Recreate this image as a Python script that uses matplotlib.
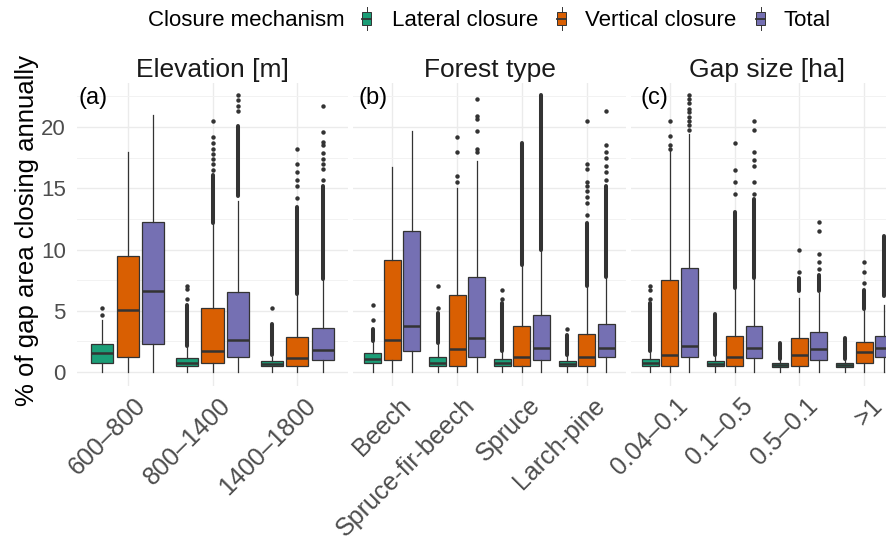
import matplotlib.pyplot as plt
from matplotlib.patches import Rectangle
from matplotlib.transforms import ScaledTranslation
import numpy as np

plt.rcParams['font.family'] = ['Liberation Sans', 'DejaVu Sans']

mechanisms = ['Lateral closure', 'Vertical closure', 'Total']
mech_colors = ['#1B9E77', '#D95F02', '#7570B3']

# box stats per category: (q1, median, q3, upper whisker), lower whisker is 0
# outliers: dense run (from, to) where the points overlap, plus single points

# (a) Elevation [m]
elev_labels = ['600–800', '800–1400', '1400–1800']
elev_lateral = [(0.71, 1.53, 2.27, 4.25), (0.49, 0.77, 1.12, 2.08), (0.49, 0.68, 0.90, 1.26)]
elev_vertical = [(1.26, 5.03, 9.51, 17.98), (0.71, 1.75, 5.25, 12.13), (0.49, 1.15, 2.87, 6.31)]
elev_total = [(2.27, 6.64, 12.24, 20.98), (1.26, 2.65, 6.53, 13.93), (0.98, 1.80, 3.61, 7.54)]
elev_runs = [
    [None, (2.15, 5.5), (1.35, 3.9)],
    [None, (12.2, 16.1), (6.4, 13.5)],
    [None, (14.4, 20.1), (7.6, 15.2)],
]
elev_points = [
    [[4.62, 5.22], [6.0, 6.78, 7.0], [5.22]],
    [[], [16.5, 17.0, 17.4, 17.8, 18.2, 18.7, 19.2, 20.5], [14.2, 15.2, 15.7, 16.3, 17.0, 18.25]],
    [[], [21.3, 21.7, 22.2, 22.6], [15.7, 16.6, 17.0, 17.4, 17.9, 18.5, 18.8, 19.6, 21.7]],
]

# (b) Forest type
forest_labels = ['Beech', 'Spruce-fir-beech', 'Spruce', 'Larch-pine']
forest_lateral = [(0.71, 1.04, 1.53, 2.49), (0.49, 0.77, 1.26, 2.35), (0.49, 0.77, 1.04, 1.67), (0.49, 0.68, 0.90, 1.31)]
forest_vertical = [(0.98, 2.65, 9.15, 16.78), (0.49, 1.91, 6.31, 15.0), (0.49, 1.26, 3.77, 8.63), (0.49, 1.26, 3.11, 7.0)]
forest_total = [(1.75, 3.72, 11.5, 19.7), (1.26, 2.76, 7.76, 17.24), (0.98, 1.99, 4.64, 9.95), (1.26, 1.99, 3.91, 7.76)]
forest_runs = [
    [(2.55, 3.5), (2.4, 4.8), (1.7, 5.6), (1.35, 3.0)],
    [None, None, (8.7, 18.7), (7.05, 12.2)],
    [None, None, (10.0, 22.6), (7.8, 15.2)],
]
forest_points = [
    [[4.26, 5.49], [5.2, 7.0], [6.0, 6.7], [3.5]],
    [[], [15.5, 16.0, 17.98, 19.2], [], [12.8, 13.8, 14.3, 14.8, 15.2, 15.5, 16.6, 17.0, 20.5]],
    [[], [18.0, 18.2, 19.7, 20.7, 20.9, 22.3], [], [15.7, 16.3, 16.8, 17.5, 18.0, 18.5, 21.3]],
]

# (c) Gap size [ha]
gap_labels = ['0.04–0.1', '0.1–0.5', '0.5–0.1', '>1']
gap_lateral = [(0.49, 0.77, 1.04, 1.67), (0.49, 0.68, 0.90, 1.31), (0.38, 0.55, 0.71, 1.04), (0.38, 0.55, 0.71, 0.98)]
gap_vertical = [(0.49, 1.39, 7.51, 18.06), (0.49, 1.26, 2.98, 6.78), (0.49, 1.39, 2.76, 6.04), (0.71, 1.61, 2.49, 5.08)]
gap_total = [(1.26, 2.16, 8.50, 19.4), (1.12, 1.99, 3.77, 7.6), (0.98, 1.91, 3.25, 6.45), (1.26, 1.99, 2.98, 5.49)]
gap_runs = [
    [(1.7, 5.6), (1.35, 4.7), (1.1, 2.35), (1.1, 2.76)],
    [None, (6.85, 13.1), (6.6, 7.7), (5.15, 6.7)],
    [None, (7.65, 14.1), (6.6, 7.95), (6.2, 11.1)],
]
gap_points = [
    [[6.0, 6.7, 7.05], [], [], []],
    [[18.25, 18.5, 19.3, 20.5], [14.5, 15.5, 16.5, 18.7], [8.2, 10.0], [7.3, 8.2, 8.96]],
    [[19.8, 20.2, 20.5, 20.8, 21.2, 21.5, 22.0, 22.3, 22.6], [14.5, 15.5, 16.8, 17.3, 18.0, 19.75, 20.5],
     [8.4, 8.96, 9.67, 11.5, 12.24], []],
]

edge = '#333333'
W, H = 886, 543
fig = plt.figure(figsize=(W / 100, H / 100), dpi=100)


def px_axes(x0, x1, y0, y1):
    return fig.add_axes([x0 / W, 1 - y1 / H, (x1 - x0) / W, (y1 - y0) / H])


panels = [
    (px_axes(77, 348, 83, 385.5), 'Elevation [m]', '(a)', 1, elev_labels,
     [elev_lateral, elev_vertical, elev_total], elev_runs, elev_points),
    (px_axes(353.4, 625.6, 83, 385.5), 'Forest type', '(b)', 5, forest_labels,
     [forest_lateral, forest_vertical, forest_total], forest_runs, forest_points),
    (px_axes(631, 903, 83, 385.5), 'Gap size [ha]', '(c)', 9, gap_labels,
     [gap_lateral, gap_vertical, gap_total], gap_runs, gap_points),
]

offsets = [-0.3, 0.0, 0.3]

for k, (ax, title, tag, tag_dx, labels, boxes, runs, points) in enumerate(panels):
    n = len(labels)
    for m in range(3):
        pos = np.arange(n) + offsets[m]
        stats = [dict(q1=b[0], med=b[1], q3=b[2], whislo=0.0, whishi=b[3]) for b in boxes[m]]
        ax.bxp(stats, positions=pos, widths=0.26, patch_artist=True,
               showfliers=False, showcaps=False,
               boxprops=dict(facecolor=mech_colors[m], edgecolor=edge, linewidth=0.9),
               medianprops=dict(color=edge, linewidth=1.8),
               whiskerprops=dict(color=edge, linewidth=0.9))
        for i in range(n):
            if runs[m][i] is not None:
                ax.plot([pos[i], pos[i]], runs[m][i], color=edge, lw=2.9,
                        solid_capstyle='round', zorder=3)
            if points[m][i]:
                ax.plot([pos[i]] * len(points[m][i]), points[m][i], 'o', ms=3.2,
                        color=edge, mew=0, zorder=3)

    ax.set_xlim(-0.6, n - 0.4)
    ax.set_ylim(-1.1, 23.6)
    ax.set_xticks(np.arange(n))
    ax.set_yticks([0, 5, 10, 15, 20])
    ax.set_yticks(np.arange(2.5, 23, 5), minor=True)
    ax.grid(True, which='major', color='#EBEBEB', lw=1.0)
    ax.grid(True, which='minor', axis='y', color='#F2F2F2', lw=0.7)
    ax.set_axisbelow(True)
    for s in ax.spines.values():
        s.set_visible(False)
    ax.tick_params(which='both', length=0)
    ax.tick_params(axis='y', pad=8, labelsize=16, labelcolor='#4D4D4D')
    if k > 0:
        ax.set_yticklabels([])

    shift = ScaledTranslation(6 / 100, -3 / 100, fig.dpi_scale_trans)
    ax.set_xticklabels(labels, rotation=45, ha='right', va='top', rotation_mode='anchor',
                       fontsize=18, color='#4D4D4D')
    for lab in ax.get_xticklabels():
        lab.set_transform(lab.get_transform() + shift)

    ax.set_title(title, fontsize=19, color='#1A1A1A', pad=4.5)
    ax.text(tag_dx / ax.bbox.width, 1 - 4 / 302.5, tag, transform=ax.transAxes,
            ha='left', va='top', fontsize=17, color='black')

fig.text(27 / W, 1 - 230 / H, '% of gap area closing annually', rotation=90,
         ha='center', va='center', fontsize=18.5, color='black')

# legend on top
leg = fig.add_axes([0, 0, 1, 1])
leg.set_xlim(0, W)
leg.set_ylim(H, 0)
leg.axis('off')
leg.text(148, 26.5, 'Closure mechanism', va='baseline', ha='left', fontsize=16, color='black')
key_x = [367, 562, 761]
text_x = [392, 585, 784]
for cx, tx, col, name in zip(key_x, text_x, mech_colors, mechanisms):
    leg.plot([cx, cx], [6.5, 29.5], color=edge, lw=0.7)
    leg.add_patch(Rectangle((cx - 4.5, 12), 9, 13, facecolor=col, edgecolor=edge, lw=0.7, zorder=3))
    leg.plot([cx - 4.5, cx + 4.5], [18.5, 18.5], color=edge, lw=1.3, zorder=4)
    leg.text(tx, 26.5, name, va='baseline', ha='left', fontsize=16, color='black')

fig.savefig('out.png', dpi=100)
